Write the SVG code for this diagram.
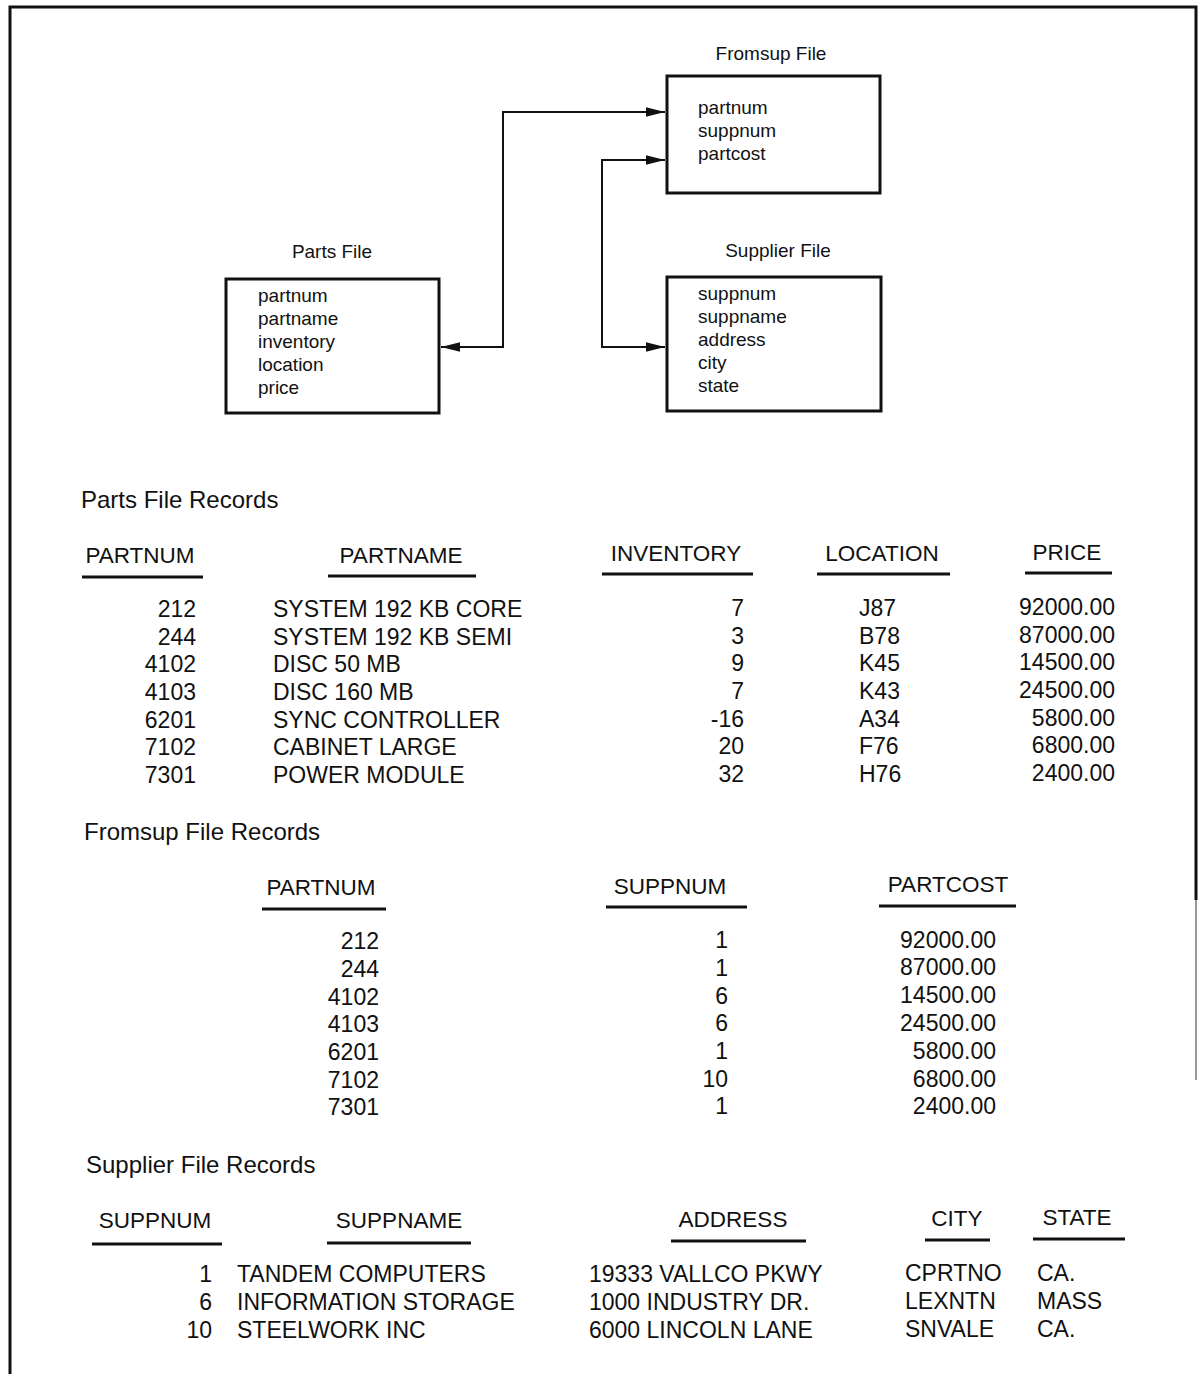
<svg xmlns="http://www.w3.org/2000/svg" width="1198" height="1374" viewBox="0 0 1198 1374">
  <style>
    text { font-family: "Liberation Sans", Arial, Helvetica, sans-serif; fill: #111; }
    .box { fill: #fff; stroke: #111; stroke-width: 3; }
    .title { font-size: 19px; text-anchor: middle; }
    .field { font-size: 19px; }
    .wire { fill: none; stroke: #111; stroke-width: 2; }
    .sect { font-size: 24px; }
    .hdr { font-size: 22.5px; text-anchor: middle; }
    .rule { stroke: #111; stroke-width: 3; }
    .cell { font-size: 23px; }
    .num { font-size: 23px; text-anchor: end; }
    .frame { stroke: #111; stroke-width: 3; fill: none; }
  </style>
  <defs>
    <marker id="head" viewBox="0 0 20 10" refX="20" refY="5" markerWidth="19" markerHeight="10" markerUnits="userSpaceOnUse" orient="auto-start-reverse">
      <path d="M0,0 L20,5 L0,10 z" fill="#111"/>
    </marker>
  </defs>

  <rect width="1198" height="1374" fill="#fff"/>

  <!-- page frame -->
  <g id="frame">
    <path class="frame" d="M10,1374 V7 H1196 V900"/>
    <line x1="1196" y1="900" x2="1196" y2="1080" stroke="#999" stroke-width="2"/>
  </g>

  <!-- record layout boxes -->
  <g id="fromsup-file">
    <text class="title" x="771" y="60">Fromsup File</text>
    <rect class="box" x="667" y="76" width="213" height="117"/>
    <text class="field" x="698" y="114">partnum</text>
    <text class="field" x="698" y="137">suppnum</text>
    <text class="field" x="698" y="160">partcost</text>
  </g>

  <g id="parts-file">
    <text class="title" x="332" y="258">Parts File</text>
    <rect class="box" x="226" y="279" width="213" height="134"/>
    <text class="field" x="258" y="302">partnum</text>
    <text class="field" x="258" y="325">partname</text>
    <text class="field" x="258" y="348">inventory</text>
    <text class="field" x="258" y="371">location</text>
    <text class="field" x="258" y="394">price</text>
  </g>

  <g id="supplier-file">
    <text class="title" x="778" y="257">Supplier File</text>
    <rect class="box" x="667" y="277" width="214" height="134"/>
    <text class="field" x="698" y="300">suppnum</text>
    <text class="field" x="698" y="323">suppname</text>
    <text class="field" x="698" y="346">address</text>
    <text class="field" x="698" y="369">city</text>
    <text class="field" x="698" y="392">state</text>
  </g>

  <!-- links between the files -->
  <g id="connectors">
    <path class="wire" d="M441,347 H503 V112 H665" marker-start="url(#head)" marker-end="url(#head)"/>
    <path class="wire" d="M665,160 H602 V347 H665" marker-start="url(#head)" marker-end="url(#head)"/>
  </g>

  <!-- Parts File Records -->
  <g id="parts-records">
    <text class="sect" x="81" y="508">Parts File Records</text>
    <text class="hdr" x="140" y="563">PARTNUM</text>
    <text class="hdr" x="401" y="563">PARTNAME</text>
    <text class="hdr" x="676" y="561">INVENTORY</text>
    <text class="hdr" x="882" y="561">LOCATION</text>
    <text class="hdr" x="1067" y="560">PRICE</text>
    <line class="rule" x1="82" y1="577" x2="203" y2="577"/>
    <line class="rule" x1="328" y1="576" x2="476" y2="576"/>
    <line class="rule" x1="602" y1="574" x2="753" y2="574"/>
    <line class="rule" x1="817" y1="574" x2="950" y2="574"/>
    <line class="rule" x1="1025" y1="573" x2="1112" y2="573"/>

    <text class="num" x="196" y="617">212</text>
    <text class="num" x="196" y="645">244</text>
    <text class="num" x="196" y="672">4102</text>
    <text class="num" x="196" y="700">4103</text>
    <text class="num" x="196" y="728">6201</text>
    <text class="num" x="196" y="755">7102</text>
    <text class="num" x="196" y="783">7301</text>

    <text class="cell" x="273" y="617">SYSTEM 192 KB CORE</text>
    <text class="cell" x="273" y="645">SYSTEM 192 KB SEMI</text>
    <text class="cell" x="273" y="672">DISC 50 MB</text>
    <text class="cell" x="273" y="700">DISC 160 MB</text>
    <text class="cell" x="273" y="728">SYNC CONTROLLER</text>
    <text class="cell" x="273" y="755">CABINET LARGE</text>
    <text class="cell" x="273" y="783">POWER MODULE</text>

    <text class="num" x="744" y="616">7</text>
    <text class="num" x="744" y="644">3</text>
    <text class="num" x="744" y="671">9</text>
    <text class="num" x="744" y="699">7</text>
    <text class="num" x="744" y="727">-16</text>
    <text class="num" x="744" y="754">20</text>
    <text class="num" x="744" y="782">32</text>

    <text class="cell" x="859" y="616">J87</text>
    <text class="cell" x="859" y="644">B78</text>
    <text class="cell" x="859" y="671">K45</text>
    <text class="cell" x="859" y="699">K43</text>
    <text class="cell" x="859" y="727">A34</text>
    <text class="cell" x="859" y="754">F76</text>
    <text class="cell" x="859" y="782">H76</text>

    <text class="num" x="1115" y="615">92000.00</text>
    <text class="num" x="1115" y="643">87000.00</text>
    <text class="num" x="1115" y="670">14500.00</text>
    <text class="num" x="1115" y="698">24500.00</text>
    <text class="num" x="1115" y="726">5800.00</text>
    <text class="num" x="1115" y="753">6800.00</text>
    <text class="num" x="1115" y="781">2400.00</text>
  </g>

  <!-- Fromsup File Records -->
  <g id="fromsup-records">
    <text class="sect" x="84" y="840">Fromsup File Records</text>
    <text class="hdr" x="321" y="895">PARTNUM</text>
    <text class="hdr" x="670" y="894">SUPPNUM</text>
    <text class="hdr" x="948" y="892">PARTCOST</text>
    <line class="rule" x1="262" y1="909" x2="386" y2="909"/>
    <line class="rule" x1="606" y1="907" x2="747" y2="907"/>
    <line class="rule" x1="879" y1="906" x2="1016" y2="906"/>

    <text class="num" x="379" y="949">212</text>
    <text class="num" x="379" y="977">244</text>
    <text class="num" x="379" y="1005">4102</text>
    <text class="num" x="379" y="1032">4103</text>
    <text class="num" x="379" y="1060">6201</text>
    <text class="num" x="379" y="1088">7102</text>
    <text class="num" x="379" y="1115">7301</text>

    <text class="num" x="728" y="948">1</text>
    <text class="num" x="728" y="976">1</text>
    <text class="num" x="728" y="1004">6</text>
    <text class="num" x="728" y="1031">6</text>
    <text class="num" x="728" y="1059">1</text>
    <text class="num" x="728" y="1087">10</text>
    <text class="num" x="728" y="1114">1</text>

    <text class="num" x="996" y="948">92000.00</text>
    <text class="num" x="996" y="975">87000.00</text>
    <text class="num" x="996" y="1003">14500.00</text>
    <text class="num" x="996" y="1031">24500.00</text>
    <text class="num" x="996" y="1059">5800.00</text>
    <text class="num" x="996" y="1087">6800.00</text>
    <text class="num" x="996" y="1114">2400.00</text>
  </g>

  <!-- Supplier File Records -->
  <g id="supplier-records">
    <text class="sect" x="86" y="1173">Supplier File Records</text>
    <text class="hdr" x="155" y="1228">SUPPNUM</text>
    <text class="hdr" x="399" y="1228">SUPPNAME</text>
    <text class="hdr" x="733" y="1227">ADDRESS</text>
    <text class="hdr" x="957" y="1226">CITY</text>
    <text class="hdr" x="1077" y="1225">STATE</text>
    <line class="rule" x1="92" y1="1244" x2="222" y2="1244"/>
    <line class="rule" x1="327" y1="1243" x2="471" y2="1243"/>
    <line class="rule" x1="671" y1="1241" x2="806" y2="1241"/>
    <line class="rule" x1="925" y1="1240" x2="990" y2="1240"/>
    <line class="rule" x1="1033" y1="1239" x2="1125" y2="1239"/>

    <text class="num" x="212" y="1282">1</text>
    <text class="num" x="212" y="1310">6</text>
    <text class="num" x="212" y="1338">10</text>

    <text class="cell" x="237" y="1282">TANDEM COMPUTERS</text>
    <text class="cell" x="237" y="1310">INFORMATION STORAGE</text>
    <text class="cell" x="237" y="1338">STEELWORK INC</text>

    <text class="cell" x="589" y="1282">19333 VALLCO PKWY</text>
    <text class="cell" x="589" y="1310">1000 INDUSTRY DR.</text>
    <text class="cell" x="589" y="1338">6000 LINCOLN LANE</text>

    <text class="cell" x="905" y="1281">CPRTNO</text>
    <text class="cell" x="905" y="1309">LEXNTN</text>
    <text class="cell" x="905" y="1337">SNVALE</text>

    <text class="cell" x="1037" y="1281">CA.</text>
    <text class="cell" x="1037" y="1309">MASS</text>
    <text class="cell" x="1037" y="1337">CA.</text>
  </g>
</svg>
